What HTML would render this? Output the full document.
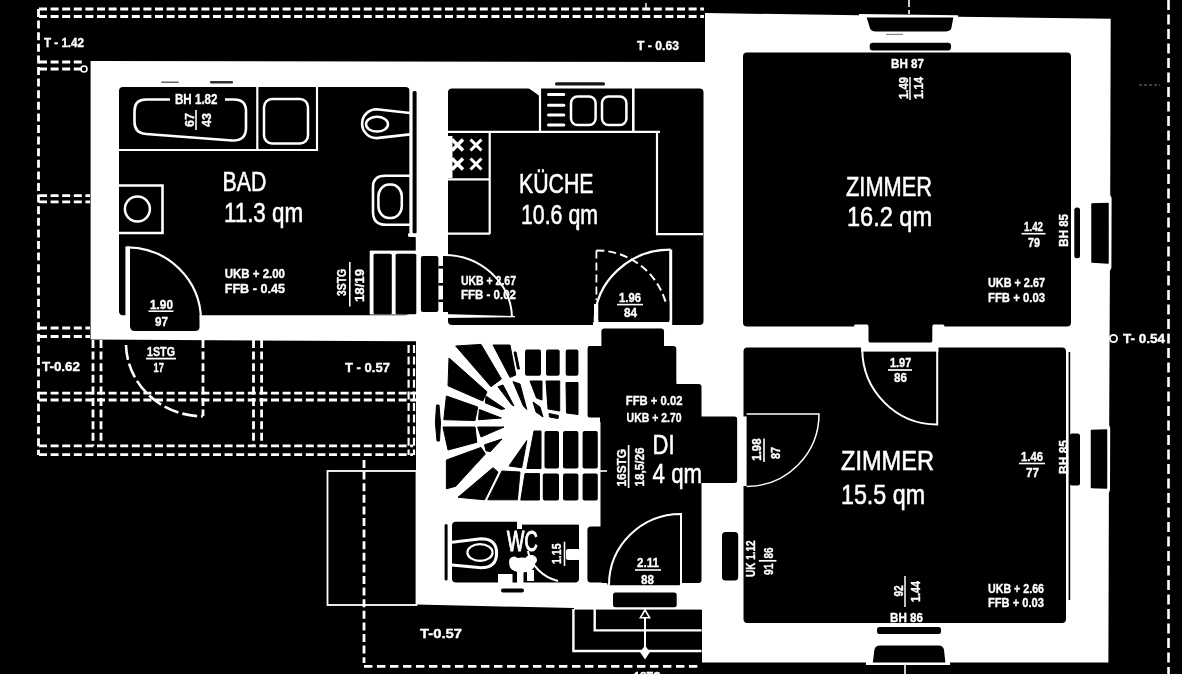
<!DOCTYPE html>
<html><head><meta charset="utf-8"><title>Grundriss</title>
<style>html,body{margin:0;padding:0;background:#000;overflow:hidden}svg{display:block}text{font-family:"Liberation Sans",sans-serif}</style>
</head><body>
<svg width="1182" height="674" viewBox="0 0 1182 674" shape-rendering="geometricPrecision">
<defs><filter id="soft" x="-2%" y="-2%" width="104%" height="104%"><feGaussianBlur stdDeviation="0.45"/></filter></defs>
<rect width="1182" height="674" fill="#000"/>
<g filter="url(#soft)">
<line x1="39" y1="9" x2="704" y2="9" stroke="#fff" stroke-width="2.8" stroke-dasharray="8 3.6"/>
<line x1="39" y1="16.5" x2="704" y2="16.5" stroke="#fff" stroke-width="2.8" stroke-dasharray="8 3.6"/>
<line x1="38.5" y1="9" x2="38.5" y2="455" stroke="#fff" stroke-width="2.8" stroke-dasharray="8 3.6"/>
<line x1="39" y1="62" x2="84" y2="62" stroke="#fff" stroke-width="2.8" stroke-dasharray="8 3.6"/>
<line x1="39" y1="69" x2="82" y2="69" stroke="#fff" stroke-width="2.8" stroke-dasharray="8 3.6"/>
<line x1="39" y1="195.7" x2="90" y2="195.7" stroke="#fff" stroke-width="2.8" stroke-dasharray="8 3.6"/>
<line x1="39" y1="201.8" x2="90" y2="201.8" stroke="#fff" stroke-width="2.8" stroke-dasharray="8 3.6"/>
<line x1="39" y1="328" x2="90" y2="328" stroke="#fff" stroke-width="2.8" stroke-dasharray="8 3.6"/>
<line x1="39" y1="336.5" x2="90" y2="336.5" stroke="#fff" stroke-width="2.8" stroke-dasharray="8 3.6"/>
<line x1="93" y1="340" x2="93" y2="446" stroke="#fff" stroke-width="2.8" stroke-dasharray="8 3.6"/>
<line x1="101" y1="340" x2="101" y2="446" stroke="#fff" stroke-width="2.8" stroke-dasharray="8 3.6"/>
<line x1="39" y1="393.2" x2="416" y2="393.2" stroke="#fff" stroke-width="2.8" stroke-dasharray="8 3.6"/>
<line x1="39" y1="400" x2="416" y2="400" stroke="#fff" stroke-width="2.8" stroke-dasharray="8 3.6"/>
<line x1="203" y1="340" x2="203" y2="416" stroke="#fff" stroke-width="2.8" stroke-dasharray="8 3.6"/>
<line x1="253.5" y1="340" x2="253.5" y2="446" stroke="#fff" stroke-width="2.8" stroke-dasharray="8 3.6"/>
<line x1="261.6" y1="340" x2="261.6" y2="446" stroke="#fff" stroke-width="2.8" stroke-dasharray="8 3.6"/>
<line x1="408.6" y1="345" x2="408.6" y2="455" stroke="#fff" stroke-width="2.2" stroke-dasharray="8 3.6"/>
<line x1="414" y1="345" x2="414" y2="455" stroke="#fff" stroke-width="2.2" stroke-dasharray="8 3.6"/>
<line x1="39" y1="445.8" x2="413" y2="445.8" stroke="#fff" stroke-width="2.8" stroke-dasharray="8 3.6"/>
<line x1="39" y1="454.6" x2="413" y2="454.6" stroke="#fff" stroke-width="2.8" stroke-dasharray="8 3.6"/>
<line x1="364" y1="460" x2="364" y2="663" stroke="#fff" stroke-width="2.8" stroke-dasharray="8 3.6"/>
<line x1="1168.5" y1="0" x2="1168.5" y2="674" stroke="#fff" stroke-width="2.6" stroke-dasharray="10 4.5"/>
<line x1="909" y1="0" x2="909" y2="14" stroke="#fff" stroke-width="1.6" stroke-dasharray="7 3"/>
<line x1="905" y1="664" x2="905" y2="674" stroke="#fff" stroke-width="1.6"/>
<line x1="646" y1="3" x2="646" y2="10" stroke="#fff" stroke-width="1.4"/>
<line x1="1139" y1="85" x2="1160" y2="85" stroke="#777" stroke-width="1" stroke-dasharray="3 2"/>
<path d="M126,345 A77,73 0 0 0 203,416.3" stroke="#fff" stroke-width="2.6" fill="none" stroke-dasharray="15 4" />
<circle cx="84" cy="69" r="3" fill="none" stroke="#fff" stroke-width="1.6"/>
<rect x="327.5" y="471" width="89" height="134" fill="none" stroke="#fff" stroke-width="1.8"/>
<polygon points="90.6,61 705,62 705,13 859,15.3 859,14 958,15.3 958,16.8 1110.7,18.7 1110.2,195 1111.6,198 1111.4,268 1109.9,271 1109.2,425 1110.2,428 1110,490 1108.9,493 1108.4,662.5 950,662.5 950,665 866,665 866,662.5 702,662.5 702,610 574,610 574,608 416,604.5 416,341.3 90.6,339.5" fill="#fff" />
<circle cx="1113.5" cy="338.5" r="3.6" fill="#000" stroke="#fff" stroke-width="1.8"/>
<rect x="119" y="87" width="290.5" height="228.3" rx="4" fill="#000" />
<rect x="404" y="237" width="11.8" height="15" rx="1" fill="#000" />
<rect x="412.6" y="91" width="4.0" height="142.5" rx="1.5" fill="#000" />
<path d="M130,249 L130,326 Q130,331 135,331 L195,331 Q199.5,331 199.5,327 L199.5,312 Z" stroke="none" stroke-width="0" fill="#000" />
<rect x="369.7" y="250.6" width="73.3" height="63.9" rx="0" fill="#fff" />
<rect x="373.5" y="253.8" width="18.3" height="60.4" rx="1.5" fill="#000" />
<rect x="395.6" y="253.8" width="20.7" height="60.4" rx="1.5" fill="#000" />
<rect x="420.9" y="256" width="17.5" height="56" rx="2" fill="#000" />
<rect x="448" y="88.5" width="255.5" height="236.5" rx="4" fill="#000" />
<rect x="443" y="256" width="9" height="56" rx="0" fill="#000" />
<rect x="743" y="52.5" width="328" height="274.1" rx="4" fill="#000" />
<rect x="743.5" y="347.5" width="322.5" height="275.5" rx="4" fill="#000" />
<rect x="1068.6" y="352" width="1.6" height="248" rx="0" fill="#000" />
<rect x="854" y="324.4" width="14.5" height="4.6" rx="1.5" fill="#fff" />
<rect x="932.3" y="324.4" width="12.1" height="4.6" rx="1.5" fill="#fff" />
<rect x="868.5" y="324" width="63.8" height="18.7" rx="2" fill="#000" />
<rect x="861" y="342.7" width="77.5" height="8.9" rx="0" fill="#fff" />
<rect x="601.4" y="328.4" width="62.6" height="23.6" rx="3" fill="#000" />
<rect x="587.6" y="346" width="88.7" height="76" rx="3" fill="#000" />
<rect x="600.5" y="380" width="75.8" height="203" rx="3" fill="#000" />
<rect x="607" y="560" width="74" height="25.3" rx="2.5" fill="#000" />
<rect x="670" y="384" width="31.5" height="199" rx="3" fill="#000" />
<rect x="587.4" y="526.4" width="24.6" height="56.1" rx="3.5" fill="#000" />
<rect x="695" y="416.4" width="42.4" height="66.6" rx="3" fill="#000" />
<rect x="746.6" y="414.5" width="13.4" height="71.5" rx="0" fill="#000" />
<rect x="452" y="521.8" width="127" height="60.7" rx="4" fill="#000" />
<rect x="517" y="520" width="5" height="9" rx="0" fill="#fff" />
<rect x="520" y="520" width="61" height="4.6" rx="0" fill="#fff" />
<rect x="444.6" y="524" width="3.0" height="56.6" rx="1.5" fill="#000" />
<rect x="594" y="304" width="4.5" height="22" rx="0" fill="#fff" />
<rect x="669.2" y="249.5" width="3.0" height="77.5" rx="0" fill="#fff" />
<rect x="593" y="322" width="79" height="5" rx="0" fill="#fff" />
<rect x="598.5" y="300" width="71.0" height="21.6" rx="2" fill="#000" />
<rect x="443" y="342" width="157" height="159" rx="0" fill="#fff" />
<rect x="587.6" y="346" width="14.4" height="71.5" rx="2" fill="#000" />
<rect x="525" y="349.5" width="16" height="26.2" rx="2" fill="#000" />
<rect x="546" y="349.5" width="13.7" height="26.2" rx="2" fill="#000" />
<rect x="565.7" y="349.5" width="12.7" height="26.2" rx="2" fill="#000" />
<polygon points="530,381 542,381 542,400 536.5,398" fill="#000" stroke="#000" stroke-width="1" stroke-linejoin="round"/>
<polygon points="533,402 540,407 543,417 536,412" fill="#000" stroke="#000" stroke-width="1" stroke-linejoin="round"/>
<polygon points="546,381 559.7,381 559.7,411 548,409" fill="#000" stroke="#000" stroke-width="1" stroke-linejoin="round"/>
<polygon points="549,413.5 558.5,415.5 558,418.5 549.5,417" fill="#000" stroke="#000" stroke-width="1" stroke-linejoin="round"/>
<polygon points="566,382.5 578,382.5 578,414.5 566.5,413" fill="#000" stroke="#000" stroke-width="1" stroke-linejoin="round"/>
<polygon points="455.7,346 481,344.4 501.4,379 491,386.7" fill="#000" stroke="#000" stroke-width="1" stroke-linejoin="round"/>
<polygon points="493,345 510,345 515.8,375 510,377.4" fill="#000" stroke="#000" stroke-width="1" stroke-linejoin="round"/>
<polygon points="514,352 516,352 519.5,369 517.5,369" fill="#000" stroke="#000" stroke-width="1" stroke-linejoin="round"/>
<polygon points="449,358 487,391.8 482.8,401 448,385.8" fill="#000" stroke="#000" stroke-width="1" stroke-linejoin="round"/>
<polygon points="446.4,396 477.7,407 475,420.5 443.8,419.7" fill="#000" stroke="#000" stroke-width="1" stroke-linejoin="round"/>
<polygon points="436.5,405 439,405 440.5,423 439.5,441 437,441 435.4,423" fill="#000" stroke="#000" stroke-width="1" stroke-linejoin="round"/>
<polygon points="498,386.7 503,385 514,406 511.5,404.5" fill="#000" stroke="#000" stroke-width="1" stroke-linejoin="round"/>
<polygon points="513,381.6 520,384 526.8,409.5 523.4,406" fill="#000" stroke="#000" stroke-width="1" stroke-linejoin="round"/>
<polygon points="486,396 504.8,408.7 501.4,409.5 485.3,402.8" fill="#000" stroke="#000" stroke-width="1" stroke-linejoin="round"/>
<polygon points="479.4,409.5 501.4,418 478.5,419.7" fill="#000" stroke="#000" stroke-width="1" stroke-linejoin="round"/>
<polygon points="443,427 475,427 476.8,442.3 448,450" fill="#000" stroke="#000" stroke-width="1" stroke-linejoin="round"/>
<polygon points="477.7,427 504,427 481,437" fill="#000" stroke="#000" stroke-width="1" stroke-linejoin="round"/>
<polygon points="484.5,444.8 502,439 490.4,451.6 486,450.8" fill="#000" stroke="#000" stroke-width="1" stroke-linejoin="round"/>
<polygon points="446.4,460 481,447.4 485.3,454 455.7,486.3 446.4,488.8" fill="#000" stroke="#000" stroke-width="1" stroke-linejoin="round"/>
<polygon points="458,497.3 493,467.7 498,472 484.5,499.8" fill="#000" stroke="#000" stroke-width="1" stroke-linejoin="round"/>
<polygon points="502,471 520,472 517.4,499.8 487.8,499.8" fill="#000" stroke="#000" stroke-width="1" stroke-linejoin="round"/>
<polygon points="509,466 526.8,440.6 521.7,467.7" fill="#000" stroke="#000" stroke-width="1" stroke-linejoin="round"/>
<polygon points="534,431 541,431 541,468.5 526.8,468.5" fill="#000" stroke="#000" stroke-width="1" stroke-linejoin="round"/>
<rect x="544.5" y="431" width="14.5" height="37.5" rx="2" fill="#000" />
<rect x="563" y="431" width="15.4" height="37.5" rx="2" fill="#000" />
<rect x="582.6" y="431" width="15.2" height="37.5" rx="2" fill="#000" />
<polygon points="525,473.6 539.4,473.6 539.4,500 520.8,500" fill="#000" stroke="#000" stroke-width="1" stroke-linejoin="round"/>
<rect x="542.8" y="473.6" width="16.2" height="26.9" rx="2" fill="#000" />
<rect x="563" y="473.6" width="15.4" height="26.9" rx="2" fill="#000" />
<rect x="582.6" y="473.6" width="15.2" height="26.9" rx="2" fill="#000" />
<path d="M598,471 L607,471" stroke="#fff" stroke-width="1.6" fill="none" />
<path d="M866.7,17.6 H953.3 L951.6,27 Q951,31.4 946,31.4 H875 Q870.4,31.4 869.6,27 Z" stroke="none" stroke-width="0" fill="#000" />
<line x1="886" y1="34.4" x2="903" y2="34.4" stroke="#888" stroke-width="1.2"/>
<rect x="869.7" y="42.8" width="81.3" height="7.6" rx="3" fill="#000" />
<rect x="877" y="627" width="64" height="7" rx="2.5" fill="#000" />
<path d="M872.8,662.4 L874.4,650 Q875,645.4 880,645.4 H938.5 Q943.4,645.4 944,650 L945.4,662.4 Z" stroke="none" stroke-width="0" fill="#000" />
<rect x="1074.3" y="207.5" width="5.7" height="50.8" rx="2.5" fill="#000" />
<polygon points="1092,204 1108,203.5 1108,263 1092,262" fill="#000" stroke="#000" stroke-width="1.5" stroke-linejoin="round"/>
<rect x="1069.6" y="433.5" width="10.4" height="52.0" rx="2.5" fill="#000" />
<polygon points="1091.5,430.5 1106.5,430 1106.5,488 1091.5,487.5" fill="#000" stroke="#000" stroke-width="1.5" stroke-linejoin="round"/>
<rect x="722" y="532" width="16.2" height="48.5" rx="3.5" fill="#000" />
<rect x="613" y="592.6" width="63.7" height="14.6" rx="2.5" fill="#000" />
<rect x="572" y="609.6" width="129.7" height="58.4" rx="0" fill="#000" />
<path d="M573.4,609 V651 H701.5" stroke="#fff" stroke-width="2.4" fill="none" />
<path d="M594.7,609 V630.4 H701.5" stroke="#fff" stroke-width="2.4" fill="none" />
<line x1="364" y1="666.3" x2="701" y2="666.3" stroke="#fff" stroke-width="2.8" stroke-dasharray="8.4 4.6"/>
<line x1="645" y1="614" x2="645" y2="653" stroke="#fff" stroke-width="2"/>
<polygon points="645,609.8 649.6,617.8 640.4,617.8" fill="#000" stroke="#fff" stroke-width="1.6"/>
<polygon points="645,645.5 650,652 645,659.5 640,652" fill="#fff" />
<path d="M170,99.5 H146 Q134.5,99.5 134.5,111 V122 Q134.5,133 146,134 L232,140.5 Q246,141 246,128 V111 Q246,99.5 234,99.5 H225" stroke="#fff" stroke-width="2.6" fill="none" />
<line x1="119" y1="150" x2="317.8" y2="150" stroke="#fff" stroke-width="2.2"/>
<line x1="257.3" y1="87" x2="257.3" y2="151" stroke="#fff" stroke-width="2.2"/>
<line x1="317" y1="87" x2="317" y2="151" stroke="#fff" stroke-width="2.2"/>
<rect x="264" y="99" width="44" height="44.5" rx="8" fill="none" stroke="#fff" stroke-width="2.5"/>
<path d="M119,185.5 H162.5 V233 H119" stroke="#fff" stroke-width="2.6" fill="none" />
<circle cx="137.4" cy="209" r="12.5" fill="none" stroke="#fff" stroke-width="2.5"/>
<path d="M410,113 L376.5,109.3 A14.4,14.4 0 0 0 376.5,138.1 L410,134.4" stroke="#fff" stroke-width="2.6" fill="none" />
<ellipse cx="377" cy="124.2" rx="11" ry="7.4" fill="none" stroke="#fff" stroke-width="2.5"/>
<path d="M410,175.8 H385 Q373,175.8 373,187 V212 Q373,224.8 386,224.8 H410" stroke="#fff" stroke-width="2.6" fill="none" />
<rect x="378.4" y="184.6" width="23.4" height="33.4" rx="10.5" ry="12" fill="none" stroke="#fff" stroke-width="2.5"/>
<line x1="410.8" y1="87" x2="410.8" y2="237" stroke="#fff" stroke-width="2.2"/>
<line x1="408" y1="235" x2="416.6" y2="235" stroke="#fff" stroke-width="3"/>
<rect x="125.4" y="246.5" width="4.6" height="70.5" rx="0" fill="#fff" />
<path d="M127,247.3 A74,73.5 0 0 1 201,320" stroke="#fff" stroke-width="2.2" fill="none" />
<line x1="448" y1="131.8" x2="660" y2="131.8" stroke="#fff" stroke-width="2.3"/>
<line x1="489.7" y1="131" x2="489.7" y2="234" stroke="#fff" stroke-width="2.2"/>
<line x1="657" y1="131" x2="657" y2="234" stroke="#fff" stroke-width="2.2"/>
<line x1="448" y1="179.3" x2="490" y2="179.3" stroke="#fff" stroke-width="2.2"/>
<line x1="448" y1="233.7" x2="490" y2="233.7" stroke="#fff" stroke-width="2.2"/>
<line x1="656" y1="234.2" x2="703" y2="234.2" stroke="#fff" stroke-width="2.2"/>
<line x1="577" y1="225" x2="577" y2="229.5" stroke="#fff" stroke-width="1.6"/>
<line x1="540" y1="86" x2="540" y2="132" stroke="#fff" stroke-width="2.2"/>
<line x1="633.3" y1="86" x2="633.3" y2="132" stroke="#fff" stroke-width="2.6"/>
<rect x="555" y="82.2" width="50" height="3.2" rx="1.5" fill="#181818" />
<rect x="161" y="81.4" width="18" height="1.6" rx="0.8" fill="#666" />
<rect x="210" y="81" width="23" height="2.6" rx="1" fill="#333" />
<polygon points="527,87 541,87 541,97" fill="#fff" />
<line x1="548.5" y1="94.5" x2="563.8" y2="94.5" stroke="#fff" stroke-width="3" stroke-linecap="round"/>
<line x1="548.5" y1="105.2" x2="563.8" y2="105.2" stroke="#fff" stroke-width="3" stroke-linecap="round"/>
<line x1="548.5" y1="115" x2="563.8" y2="115" stroke="#fff" stroke-width="3" stroke-linecap="round"/>
<line x1="548.5" y1="125" x2="563.8" y2="125" stroke="#fff" stroke-width="3" stroke-linecap="round"/>
<rect x="571" y="96.5" width="24.6" height="28.5" rx="6.5" fill="none" stroke="#fff" stroke-width="2.5"/>
<rect x="602" y="96.5" width="24.4" height="28.5" rx="6.5" fill="none" stroke="#fff" stroke-width="2.5"/>
<line x1="470.5" y1="139.5" x2="481.5" y2="150.5" stroke="#fff" stroke-width="3"/>
<line x1="470.5" y1="150.5" x2="481.5" y2="139.5" stroke="#fff" stroke-width="3"/>
<line x1="470.5" y1="158.5" x2="481.5" y2="169.5" stroke="#fff" stroke-width="3"/>
<line x1="470.5" y1="169.5" x2="481.5" y2="158.5" stroke="#fff" stroke-width="3"/>
<line x1="452.0" y1="139.5" x2="463.0" y2="150.5" stroke="#fff" stroke-width="3.6"/>
<line x1="452.0" y1="150.5" x2="463.0" y2="139.5" stroke="#fff" stroke-width="3.6"/>
<line x1="452.0" y1="158.5" x2="463.0" y2="169.5" stroke="#fff" stroke-width="3.6"/>
<line x1="452.0" y1="169.5" x2="463.0" y2="158.5" stroke="#fff" stroke-width="3.6"/>
<rect x="447" y="136" width="5.5" height="42" rx="0" fill="#fff" />
<path d="M444,255 A68,64 0 0 1 512,317" stroke="#fff" stroke-width="2" fill="none" />
<polygon points="443,314 515,316 515,317.3 443,318" fill="#fff" />
<line x1="596.4" y1="250.4" x2="596.4" y2="300" stroke="#fff" stroke-width="1.8" stroke-dasharray="8 4"/>
<path d="M596.4,250.4 A72,72 0 0 1 666.3,304.5" stroke="#fff" stroke-width="2" fill="none" stroke-dasharray="8 4" />
<path d="M594.7,321 A76,72 0 0 1 670.6,249.7" stroke="#fff" stroke-width="2.2" fill="none" />
<rect x="438.4" y="266" width="4.6" height="2.6" rx="0" fill="#000" />
<rect x="438.4" y="283" width="4.6" height="2.6" rx="0" fill="#000" />
<rect x="438.4" y="299.5" width="4.6" height="2.5" rx="0" fill="#000" />
<path d="M862.3,349 A75,75.5 0 0 0 937.2,424.5 V350" stroke="#fff" stroke-width="2" fill="none" />
<path d="M746.6,414 H819 A72.5,72.5 0 0 1 746.6,486.5" stroke="#fff" stroke-width="1.5" fill="none" />
<rect x="737.4" y="416.4" width="9.2" height="69.6" rx="0" fill="#fff" />
<path d="M609,585 A72,71 0 0 1 681,514 V585" stroke="#fff" stroke-width="2" fill="none" />
<path d="M452,542.3 L481,538.8 Q496.6,538.8 496.6,553.3 Q496.6,567.8 481,567.8 L452,565" stroke="#fff" stroke-width="3" fill="none" />
<ellipse cx="480" cy="552.5" rx="12.6" ry="8.4" fill="none" stroke="#fff" stroke-width="2.2"/>
<path d="M527.8,551 A40.5,40.5 0 0 0 558,581" stroke="#fff" stroke-width="2" fill="none" />
<ellipse cx="522" cy="565" rx="12.5" ry="7.5" fill="#fff"/><ellipse cx="531" cy="560" rx="6" ry="5" fill="#fff"/><ellipse cx="514" cy="562" rx="5" ry="5.5" fill="#fff"/>
<rect x="517" y="565" width="6.5" height="19" rx="0" fill="#fff" />
<rect x="498" y="574" width="14.5" height="10" rx="0" fill="#fff" />
<rect x="527" y="570" width="7" height="11" rx="0" fill="#fff" />
<rect x="566" y="549" width="14" height="11" rx="2" fill="#fff" />
<line x1="564.5" y1="541.7" x2="564.5" y2="566" stroke="#fff" stroke-width="1.6"/>
<rect x="501" y="588.5" width="23" height="4.0" rx="2" fill="#000" />
<g fill="#fff" font-family="Liberation Sans, sans-serif">
<text x="222.5" y="191" font-size="27" font-weight="normal" textLength="44.0" lengthAdjust="spacingAndGlyphs" stroke="#fff" stroke-width="0.55">BAD</text>
<text x="224" y="222" font-size="27" font-weight="normal" textLength="79" lengthAdjust="spacingAndGlyphs" stroke="#fff" stroke-width="0.55">11.3 qm</text>
<text x="519" y="193" font-size="27" font-weight="normal" textLength="74.5" lengthAdjust="spacingAndGlyphs" stroke="#fff" stroke-width="0.55">KÜCHE</text>
<text x="521" y="224" font-size="27" font-weight="normal" textLength="77" lengthAdjust="spacingAndGlyphs" stroke="#fff" stroke-width="0.55">10.6 qm</text>
<text x="846" y="196" font-size="27" font-weight="normal" textLength="86" lengthAdjust="spacingAndGlyphs" stroke="#fff" stroke-width="0.55">ZIMMER</text>
<text x="847" y="226" font-size="27" font-weight="normal" textLength="85" lengthAdjust="spacingAndGlyphs" stroke="#fff" stroke-width="0.55">16.2 qm</text>
<text x="841" y="469.5" font-size="27" font-weight="normal" textLength="93" lengthAdjust="spacingAndGlyphs" stroke="#fff" stroke-width="0.55">ZIMMER</text>
<text x="841" y="504" font-size="27" font-weight="normal" textLength="84" lengthAdjust="spacingAndGlyphs" stroke="#fff" stroke-width="0.55">15.5 qm</text>
<text x="652.6" y="454.3" font-size="28" font-weight="normal" textLength="22.1" lengthAdjust="spacingAndGlyphs" stroke="#fff" stroke-width="0.55">DI</text>
<text x="652.6" y="482.6" font-size="28" font-weight="normal" textLength="49.4" lengthAdjust="spacingAndGlyphs" stroke="#fff" stroke-width="0.55">4 qm</text>
<text x="507" y="551" font-size="29" font-weight="normal" textLength="30.7" lengthAdjust="spacingAndGlyphs" stroke="#fff" stroke-width="1.1">WC</text>
<text x="44" y="47" font-size="12.5" font-weight="bold" textLength="40" lengthAdjust="spacingAndGlyphs" stroke="#fff" stroke-width="0.35">T - 1.42</text>
<text x="637" y="50" font-size="12.5" font-weight="bold" textLength="42" lengthAdjust="spacingAndGlyphs" stroke="#fff" stroke-width="0.35">T - 0.63</text>
<text x="42" y="371" font-size="13" font-weight="bold" textLength="38" lengthAdjust="spacingAndGlyphs" stroke="#fff" stroke-width="0.35">T-0.62</text>
<text x="345" y="372" font-size="13" font-weight="bold" textLength="45" lengthAdjust="spacingAndGlyphs" stroke="#fff" stroke-width="0.35">T - 0.57</text>
<text x="420" y="638" font-size="13" font-weight="bold" textLength="42" lengthAdjust="spacingAndGlyphs" stroke="#fff" stroke-width="0.35">T-0.57</text>
<text x="1123" y="343" font-size="13" font-weight="bold" textLength="42" lengthAdjust="spacingAndGlyphs" stroke="#fff" stroke-width="0.35">T- 0.54</text>
<text x="175" y="103.7" font-size="14.5" font-weight="bold" textLength="42.5" lengthAdjust="spacingAndGlyphs" stroke="#fff" stroke-width="0.35">BH 1.82</text>
<text x="224.7" y="277.5" font-size="13.5" font-weight="bold" textLength="60.3" lengthAdjust="spacingAndGlyphs" stroke="#fff" stroke-width="0.35">UKB + 2.00</text>
<text x="224.7" y="293" font-size="13.5" font-weight="bold" textLength="60.3" lengthAdjust="spacingAndGlyphs" stroke="#fff" stroke-width="0.35">FFB - 0.45</text>
<text x="150" y="308.7" font-size="13.5" font-weight="bold" textLength="23" lengthAdjust="spacingAndGlyphs" stroke="#fff" stroke-width="0.35">1.90</text>
<line x1="148.5" y1="311.2" x2="173.5" y2="311.2" stroke="#fff" stroke-width="1.6"/>
<text x="155" y="325.8" font-size="13.5" font-weight="bold" textLength="13" lengthAdjust="spacingAndGlyphs" stroke="#fff" stroke-width="0.35">97</text>
<text x="147" y="356" font-size="13.5" font-weight="bold" textLength="28" lengthAdjust="spacingAndGlyphs" stroke="#fff" stroke-width="0.35">1STG</text>
<line x1="146" y1="358.6" x2="176" y2="358.6" stroke="#fff" stroke-width="1.8"/>
<text x="153.6" y="372.3" font-size="13.5" font-weight="bold" textLength="10.4" lengthAdjust="spacingAndGlyphs" stroke="#fff" stroke-width="0.35">17</text>
<text x="461" y="285" font-size="13.5" font-weight="bold" textLength="55" lengthAdjust="spacingAndGlyphs" stroke="#fff" stroke-width="0.35">UKB + 2.67</text>
<text x="461" y="299" font-size="12.5" font-weight="bold" textLength="55" lengthAdjust="spacingAndGlyphs" stroke="#fff" stroke-width="0.35">FFB - 0.02</text>
<text x="619" y="302" font-size="13.5" font-weight="bold" textLength="22" lengthAdjust="spacingAndGlyphs" stroke="#fff" stroke-width="0.35">1.96</text>
<line x1="617" y1="304.6" x2="643" y2="304.6" stroke="#fff" stroke-width="1.6"/>
<text x="624" y="317" font-size="12.5" font-weight="bold" textLength="13" lengthAdjust="spacingAndGlyphs" stroke="#fff" stroke-width="0.35">84</text>
<text x="891" y="68" font-size="13.5" font-weight="bold" textLength="33" lengthAdjust="spacingAndGlyphs" stroke="#fff" stroke-width="0.35">BH 87</text>
<text x="988" y="287" font-size="13.5" font-weight="bold" textLength="57" lengthAdjust="spacingAndGlyphs" stroke="#fff" stroke-width="0.35">UKB + 2.67</text>
<text x="988" y="302" font-size="13.5" font-weight="bold" textLength="57" lengthAdjust="spacingAndGlyphs" stroke="#fff" stroke-width="0.35">FFB + 0.03</text>
<text x="1024" y="231" font-size="13.5" font-weight="bold" textLength="19" lengthAdjust="spacingAndGlyphs" stroke="#fff" stroke-width="0.35">1.42</text>
<line x1="1021.6" y1="233.7" x2="1045.5" y2="233.7" stroke="#fff" stroke-width="1.6"/>
<text x="1028" y="246.7" font-size="13.5" font-weight="bold" textLength="12" lengthAdjust="spacingAndGlyphs" stroke="#fff" stroke-width="0.35">79</text>
<text x="890" y="366.6" font-size="13.5" font-weight="bold" textLength="21.2" lengthAdjust="spacingAndGlyphs" stroke="#fff" stroke-width="0.35">1.97</text>
<line x1="888" y1="370" x2="912" y2="370" stroke="#fff" stroke-width="1.7"/>
<text x="894" y="382" font-size="13.5" font-weight="bold" textLength="13" lengthAdjust="spacingAndGlyphs" stroke="#fff" stroke-width="0.35">86</text>
<text x="625.8" y="404.6" font-size="13.5" font-weight="bold" textLength="56.6" lengthAdjust="spacingAndGlyphs" stroke="#fff" stroke-width="0.35">FFB + 0.02</text>
<text x="626.6" y="421.6" font-size="13.5" font-weight="bold" textLength="55.0" lengthAdjust="spacingAndGlyphs" stroke="#fff" stroke-width="0.35">UKB + 2.70</text>
<text x="988" y="593" font-size="13.5" font-weight="bold" textLength="56" lengthAdjust="spacingAndGlyphs" stroke="#fff" stroke-width="0.35">UKB + 2.66</text>
<text x="988" y="607" font-size="13.5" font-weight="bold" textLength="56" lengthAdjust="spacingAndGlyphs" stroke="#fff" stroke-width="0.35">FFB + 0.03</text>
<text x="890" y="622" font-size="13.5" font-weight="bold" textLength="33" lengthAdjust="spacingAndGlyphs" stroke="#fff" stroke-width="0.35">BH 86</text>
<text x="1021" y="461" font-size="13.5" font-weight="bold" textLength="22" lengthAdjust="spacingAndGlyphs" stroke="#fff" stroke-width="0.35">1.46</text>
<line x1="1019" y1="463.5" x2="1045" y2="463.5" stroke="#fff" stroke-width="1.6"/>
<text x="1026" y="477" font-size="13.5" font-weight="bold" textLength="13" lengthAdjust="spacingAndGlyphs" stroke="#fff" stroke-width="0.35">77</text>
<text x="637" y="567.2" font-size="13.5" font-weight="bold" textLength="22" lengthAdjust="spacingAndGlyphs" stroke="#fff" stroke-width="0.35">2.11</text>
<line x1="635" y1="570" x2="661" y2="570" stroke="#fff" stroke-width="1.6"/>
<text x="641" y="584" font-size="13.5" font-weight="bold" textLength="13" lengthAdjust="spacingAndGlyphs" stroke="#fff" stroke-width="0.35">88</text>
<text x="634" y="680.5" font-size="13.5" font-weight="bold" textLength="27" lengthAdjust="spacingAndGlyphs" stroke="#fff" stroke-width="0.35">1STG</text>
<text x="194" y="127" font-size="13" font-weight="bold" textLength="14" lengthAdjust="spacingAndGlyphs" stroke="#fff" stroke-width="0.35" transform="rotate(-90 194 127)">67</text>
<line x1="196" y1="110" x2="196" y2="130" stroke="#fff" stroke-width="1.6"/>
<text x="211" y="127" font-size="13" font-weight="bold" textLength="14" lengthAdjust="spacingAndGlyphs" stroke="#fff" stroke-width="0.35" transform="rotate(-90 211 127)">43</text>
<text x="908" y="99" font-size="12.5" font-weight="bold" textLength="22" lengthAdjust="spacingAndGlyphs" stroke="#fff" stroke-width="0.35" transform="rotate(-90 908 99)">1.49</text>
<line x1="910" y1="77" x2="910" y2="100" stroke="#fff" stroke-width="1.5"/>
<text x="923" y="99" font-size="12.5" font-weight="bold" textLength="22" lengthAdjust="spacingAndGlyphs" stroke="#fff" stroke-width="0.35" transform="rotate(-90 923 99)">1.14</text>
<text x="345.5" y="296" font-size="12.5" font-weight="bold" textLength="27" lengthAdjust="spacingAndGlyphs" stroke="#fff" stroke-width="0.35" transform="rotate(-90 345.5 296)">3STG</text>
<line x1="349.8" y1="262" x2="349.8" y2="306.5" stroke="#fff" stroke-width="1.6"/>
<text x="363.5" y="302" font-size="12.5" font-weight="bold" textLength="33" lengthAdjust="spacingAndGlyphs" stroke="#fff" stroke-width="0.35" transform="rotate(-90 363.5 302)">18/19</text>
<text x="626" y="486.5" font-size="13" font-weight="bold" textLength="37.5" lengthAdjust="spacingAndGlyphs" stroke="#fff" stroke-width="0.35" transform="rotate(-90 626 486.5)">16STG</text>
<line x1="628.6" y1="445" x2="628.6" y2="488" stroke="#fff" stroke-width="1.7"/>
<text x="644" y="486.5" font-size="12.5" font-weight="bold" textLength="39.0" lengthAdjust="spacingAndGlyphs" stroke="#fff" stroke-width="0.35" transform="rotate(-90 644 486.5)">18,5/26</text>
<text x="761" y="460.7" font-size="12.5" font-weight="bold" textLength="22.2" lengthAdjust="spacingAndGlyphs" stroke="#fff" stroke-width="0.35" transform="rotate(-90 761 460.7)">1.98</text>
<line x1="764" y1="438.5" x2="764" y2="462" stroke="#fff" stroke-width="1.6"/>
<text x="779.5" y="459" font-size="12.5" font-weight="bold" textLength="12" lengthAdjust="spacingAndGlyphs" stroke="#fff" stroke-width="0.35" transform="rotate(-90 779.5 459)">87</text>
<text x="1068" y="246.7" font-size="13.5" font-weight="bold" textLength="32.7" lengthAdjust="spacingAndGlyphs" stroke="#fff" stroke-width="0.35" transform="rotate(-90 1068 246.7)">BH 85</text>
<text x="1068" y="474" font-size="13.5" font-weight="bold" textLength="34" lengthAdjust="spacingAndGlyphs" stroke="#fff" stroke-width="0.35" transform="rotate(-90 1068 474)">BH 85</text>
<text x="755.3" y="577" font-size="13" font-weight="bold" textLength="36.5" lengthAdjust="spacingAndGlyphs" stroke="#fff" stroke-width="0.35" transform="rotate(-90 755.3 577)">UK 1.12</text>
<text x="772.5" y="558.5" font-size="12.5" font-weight="bold" textLength="11.0" lengthAdjust="spacingAndGlyphs" stroke="#fff" stroke-width="0.35" transform="rotate(-90 772.5 558.5)">86</text>
<line x1="758.8" y1="560.8" x2="776.4" y2="560.8" stroke="#fff" stroke-width="1.7"/>
<text x="772.5" y="575" font-size="12.5" font-weight="bold" textLength="11.5" lengthAdjust="spacingAndGlyphs" stroke="#fff" stroke-width="0.35" transform="rotate(-90 772.5 575)">91</text>
<text x="561.3" y="564" font-size="12" font-weight="bold" textLength="20.5" lengthAdjust="spacingAndGlyphs" stroke="#fff" stroke-width="0.35" transform="rotate(-90 561.3 564)">1.15</text>
<text x="902.6" y="596.6" font-size="12.5" font-weight="bold" textLength="11.2" lengthAdjust="spacingAndGlyphs" stroke="#fff" stroke-width="0.35" transform="rotate(-90 902.6 596.6)">92</text>
<line x1="905" y1="576" x2="905" y2="607" stroke="#fff" stroke-width="1.5"/>
<text x="920" y="602" font-size="12.5" font-weight="bold" textLength="21" lengthAdjust="spacingAndGlyphs" stroke="#fff" stroke-width="0.35" transform="rotate(-90 920 602)">1.44</text>
</g>
</g>
</svg>
</body></html>
